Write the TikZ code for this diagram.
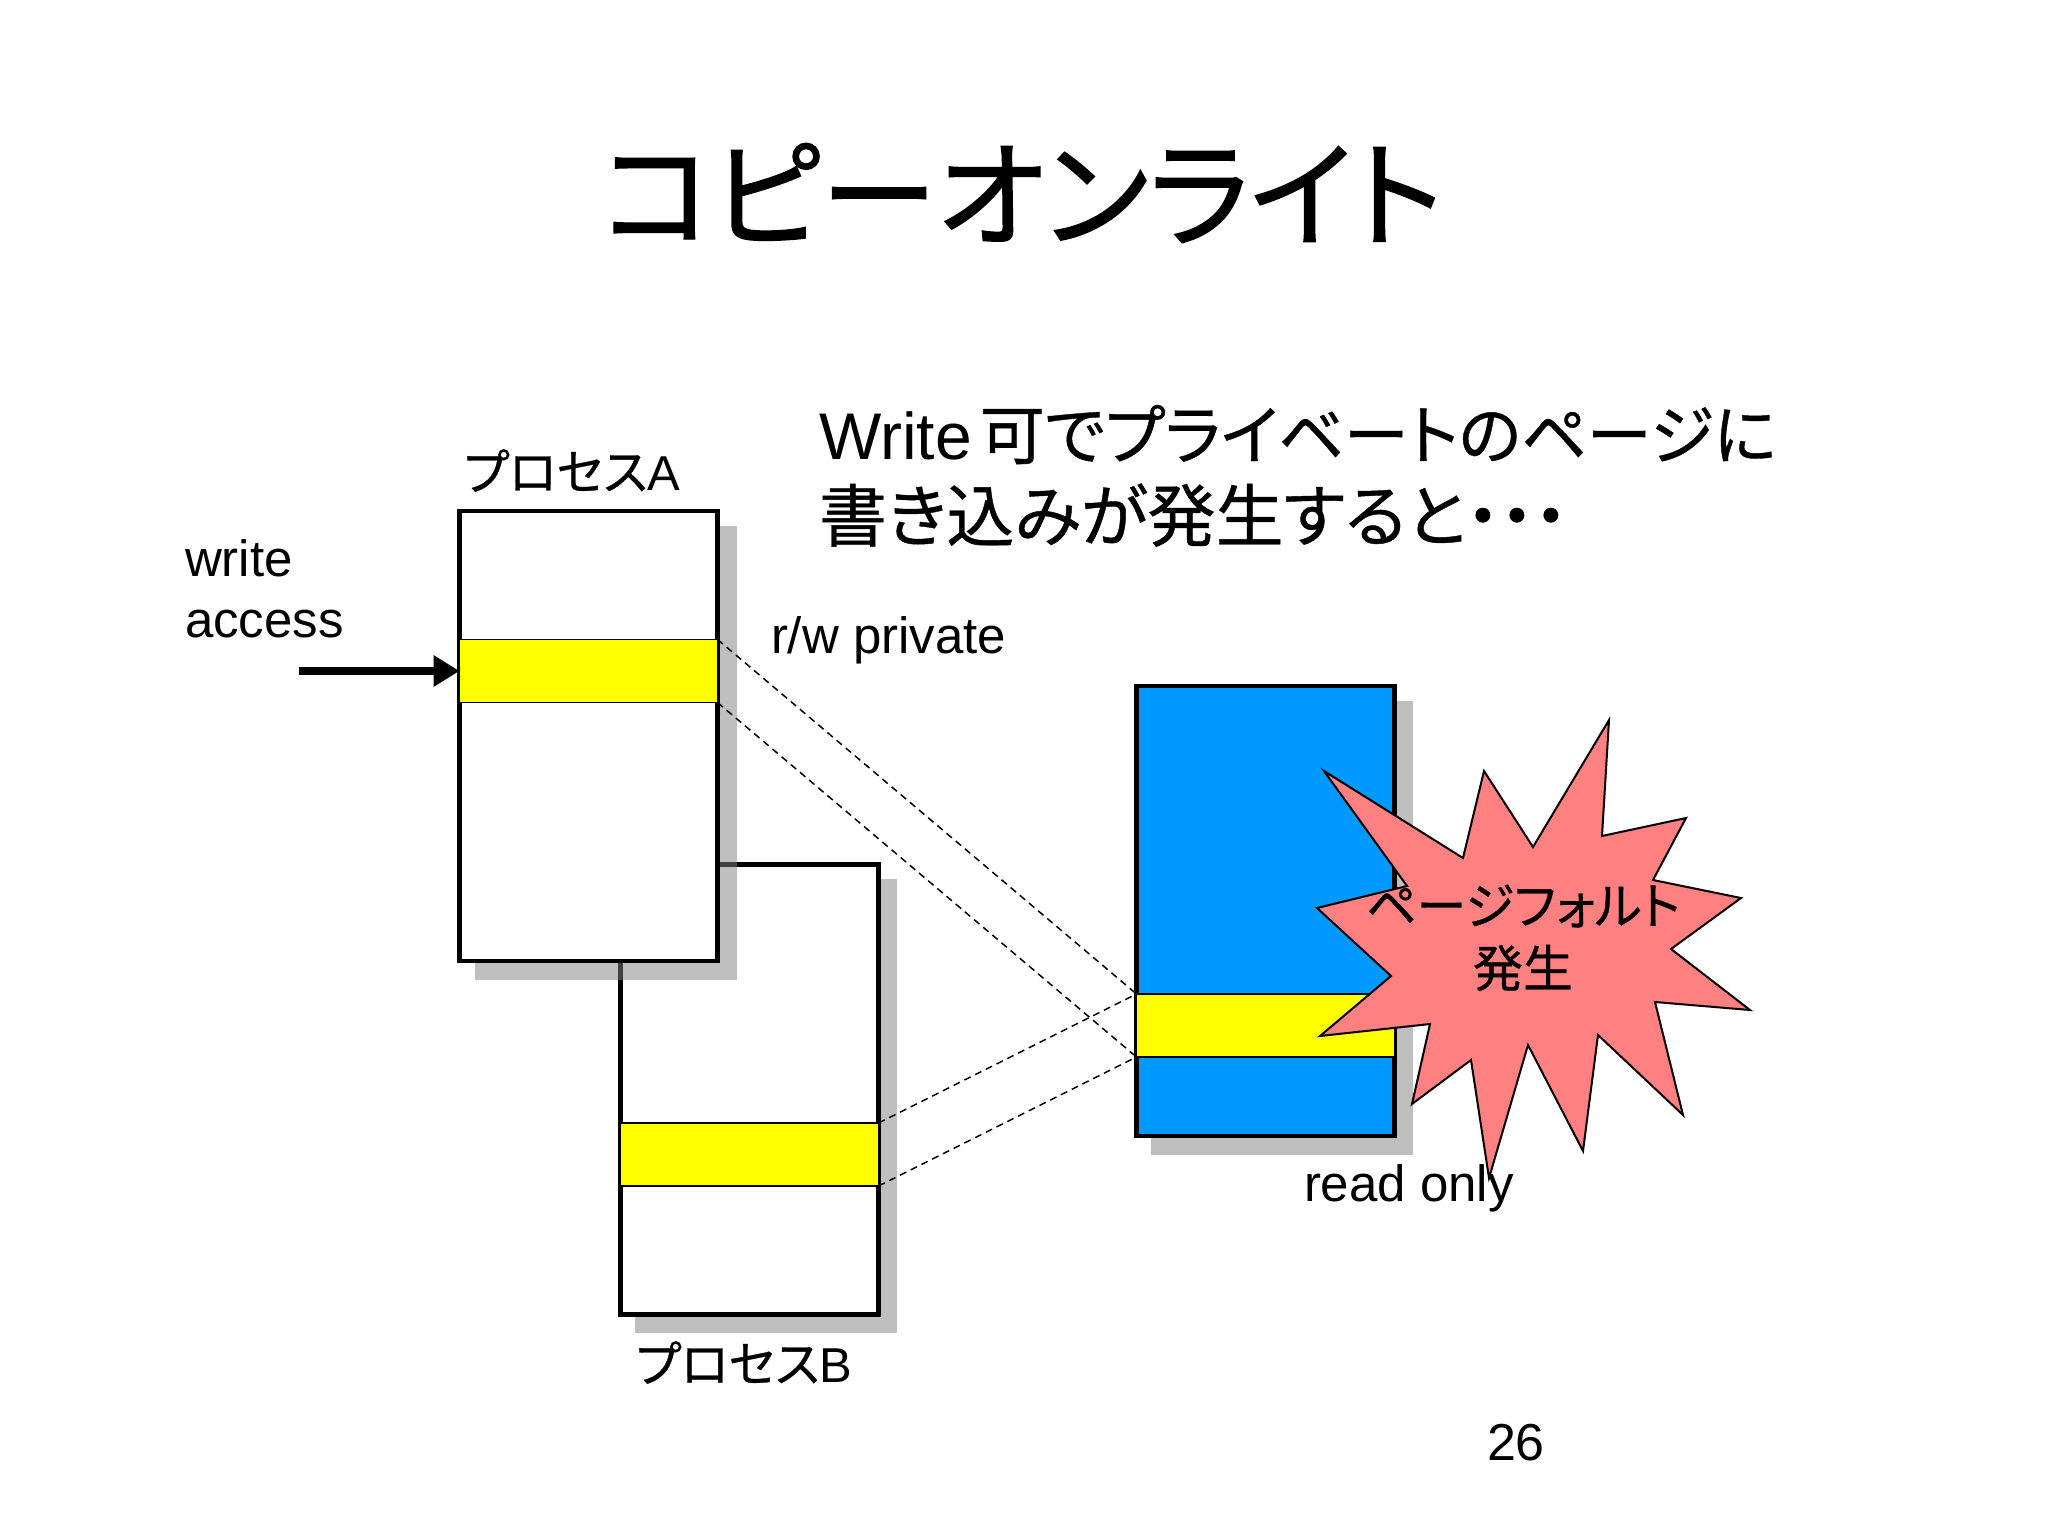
\documentclass[tikz,border=0pt]{standalone}
\usepackage{fontspec}
\usetikzlibrary{arrows.meta}
\setmainfont{Liberation Sans}
\newfontfamily\jp[CharacterWidth=AlternateProportional,FakeBold=0.6]{Noto Sans CJK JP}
\newfontfamily\jpt[CharacterWidth=AlternateProportional,FakeBold=1.2]{Noto Sans CJK JP}
\newcommand{\fs}[1]{\fontsize{#1}{#1}\selectfont}
\definecolor{bluefill}{HTML}{0099FF}
\definecolor{burstpink}{HTML}{FF8080}
\definecolor{shadowgray}{HTML}{808080}
\definecolor{pageyellow}{RGB}{255,255,0}
\tikzset{
  x=1pt,y=-1pt,
  every node/.style={inner sep=0pt,outer sep=0pt},
  membox/.style={draw=black,line width=4.4pt,fill=white,minimum width=258pt,minimum height=450pt},
  roxbox/.style={membox,fill=bluefill},
  pagebox/.style={draw=black,line width=1.6pt,fill=pageyellow,minimum width=258pt,minimum height=63pt},
  shadowbox/.style={fill=shadowgray,fill opacity=0.5,draw=none,minimum width=262pt,minimum height=454pt},
  maplink/.style={draw=black,line width=1.5pt,dash pattern=on 7pt off 5pt},
  lbl/.style={anchor=base west,font=\fs{51}},
  burst/.style={draw=black,line width=2pt,fill=burstpink,line join=miter},
}
\begin{document}
\begin{tikzpicture}
\useasboundingbox (0,0) rectangle (2048,1536);
\fill[white] (0,0) rectangle (2048,1536);
% process B
\node[shadowbox] (sb) at (766,1106) {};
\node[membox] (pb) at (749.5,1089.5) {};
\node[pagebox] (yb) at (749.5,1154.5) {};
% process A
\node[shadowbox] (sa) at (606,753) {};
\node[membox] (pa) at (588.5,736) {};
\node[pagebox] (ya) at (588.5,671) {};
% shared
\node[shadowbox] (sc) at (1282,928) {};
\node[roxbox] (pc) at (1265.5,911) {};
\node[pagebox] (yc) at (1265.5,1025.5) {};
% links
\draw[maplink] (ya.north east) -- (yc.north west);
\draw[maplink] (ya.south east) -- (yc.south west);
\draw[maplink] (yb.north east) -- (yc.north west);
\draw[maplink] (yb.south east) -- (yc.south west);
% write arrow
\coordinate (wstart) at (299,671);
\draw[line width=8pt,-{Triangle[length=26pt,width=30pt]}] (wstart) -- (ya.west);
% burst
\path[burst] (1324,771)--(1463,858)--(1484,771)--(1533,847)--(1609,720)--(1602,836)--(1686,818)--(1653,880)--(1741,898)--(1671,949)--(1750,1010)--(1655,1002)--(1683,1115)--(1598,1035)--(1583,1151)--(1528,1045)--(1489,1178)--(1471,1060)--(1412,1104)--(1430,1024)--(1320,1036)--(1391,976)--(1317,908)--(1407,886)--cycle;
% texts
\node[font=\jpt\fs{117}] (title) at (1022,193) {コピーオンライト};
\node[anchor=base west,font=\fs{66}] (head1) at (819,459) {Write\kern8pt{\jp\fs{65}可でプライベートのページに}};
\node[anchor=base west,font=\jp\fs{68}] (head2) at (819,541) {書き込みが発生すると・・・};
\node[anchor=base west,font=\fs{49}] (la) at (464,490) {{\jp プロセス}A};
\node[anchor=base west,font=\fs{49}] (lb) at (636,1382) {{\jp プロセス}B};
\node[lbl] (w1) at (185,576) {write};
\node[lbl] (w2) at (185,637) {access};
\node[lbl] (rw) at (771,653) {r/w private};
\node[lbl] (ro) at (1304,1201) {read only};
\node[lbl,font=\fs{52}] (num) at (1487,1460) {26};
\node[font=\jp\fs{50}] (pf1) at (1523,906) {ページフォルト};
\node[font=\jp\fs{50}] (pf2) at (1523,968) {発生};
\end{tikzpicture}
\end{document}
